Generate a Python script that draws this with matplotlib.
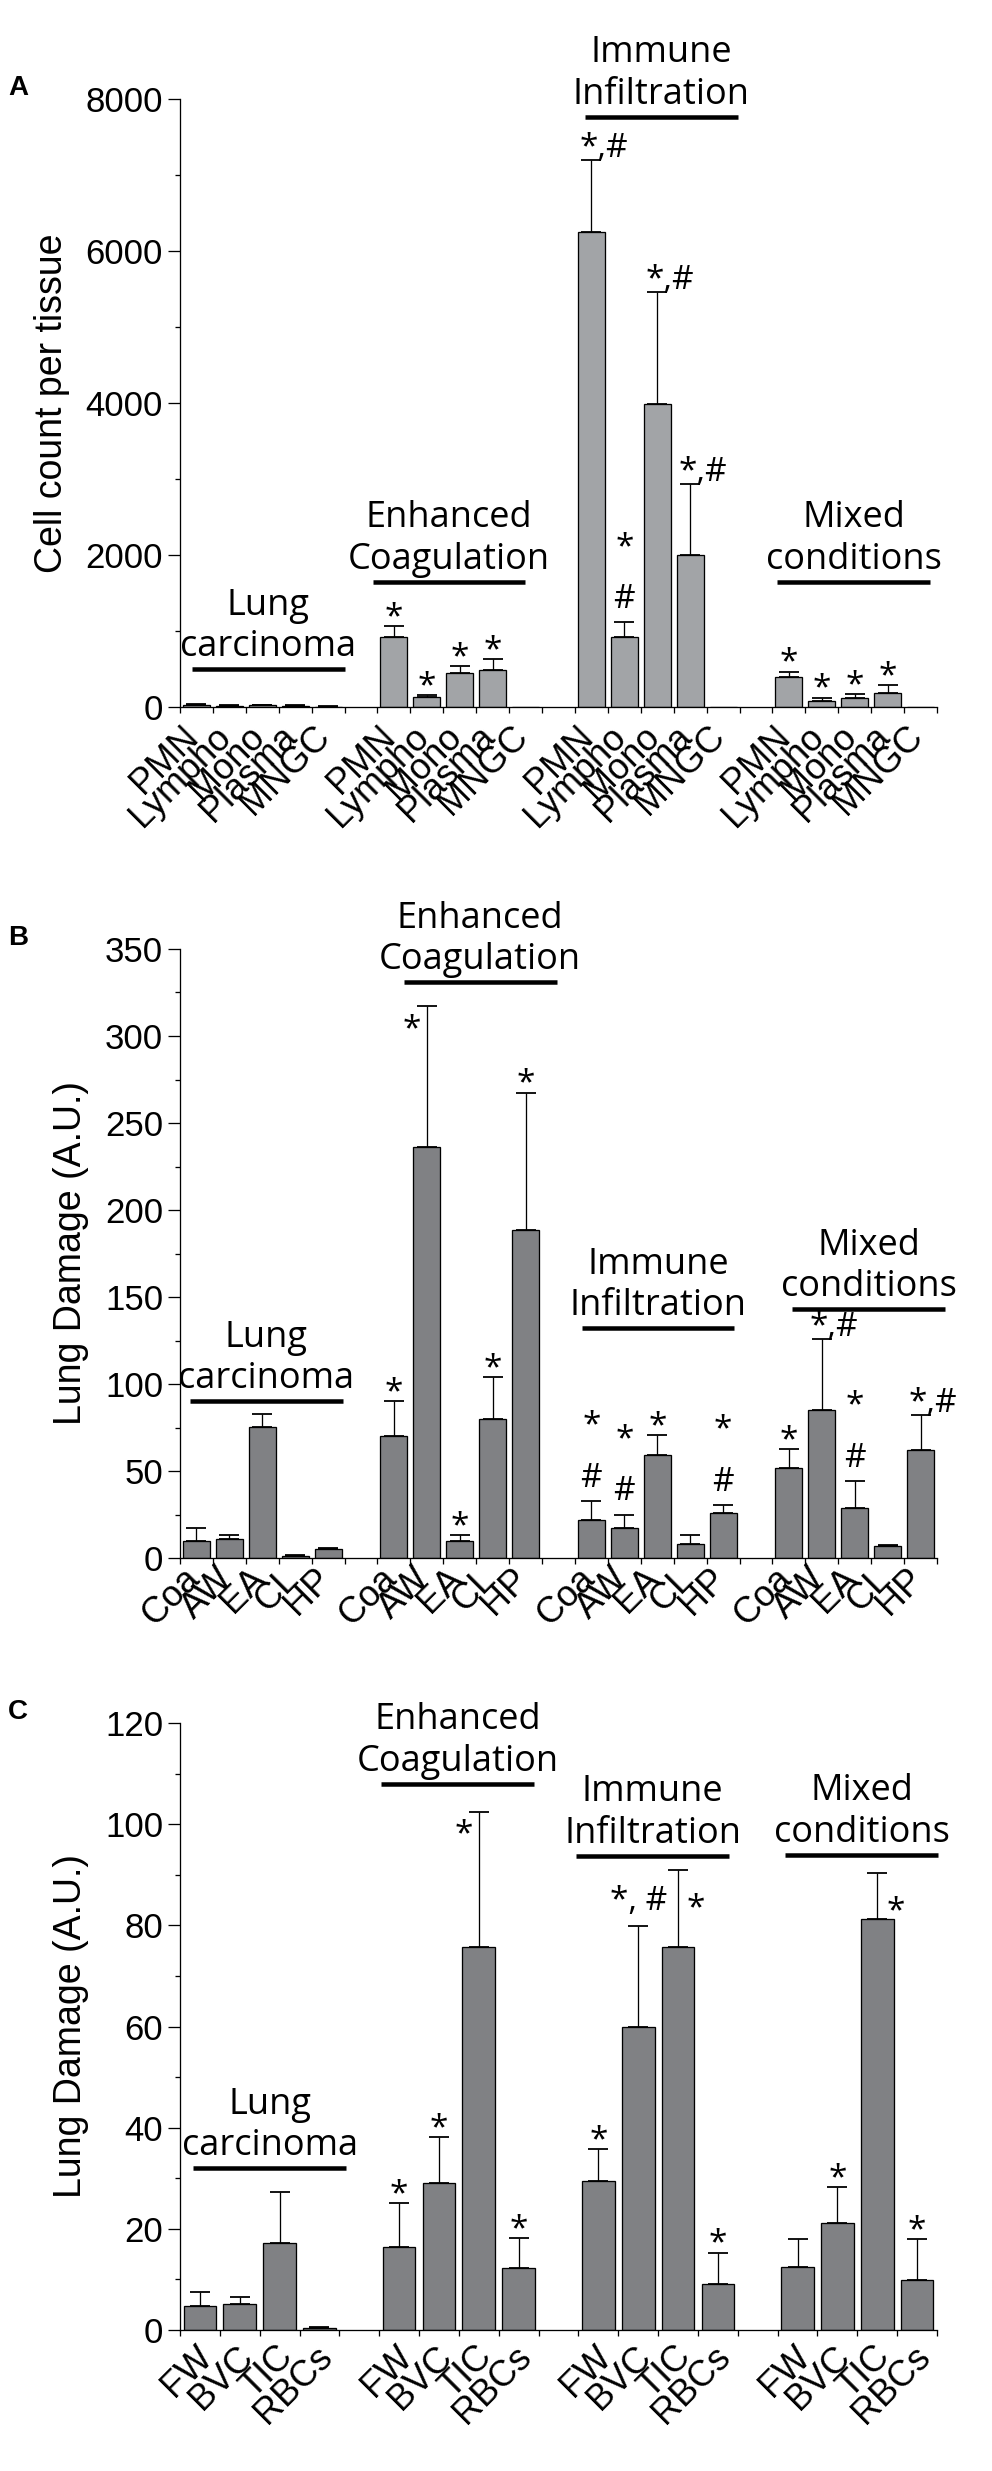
import numpy as np
import matplotlib
matplotlib.use("Agg")
import matplotlib.pyplot as plt
import matplotlib.transforms as mtrans

# ---------------- data ----------------
groups = ["Lung\ncarcinoma", "Enhanced\nCoagulation", "Immune\nInfiltration", "Mixed\nconditions"]

a_cats = ["PMN", "Lympho", "Mono", "Plasma", "MNGC"]
a_mean_lung = [25, 15, 20, 15, 5]
a_sem_lung = [15, 10, 10, 15, 3]
a_mean_enh = [920, 130, 445, 490, 0]
a_sem_enh = [145, 30, 95, 140, 0]
a_mean_imm = [6245, 920, 3990, 2000, 0]
a_sem_imm = [955, 200, 1465, 935, 0]
a_mean_mix = [395, 85, 125, 190, 0]
a_sem_mix = [70, 40, 45, 95, 0]
a_marks = [["", "", "", "", ""],
           ["*", "*", "*", "*", ""],
           ["*,#", "*/#", "*,#", "*,#", ""],
           ["*", "*", "*", "*", ""]]

b_cats = ["Coa", "AW", "EA", "CL", "HP"]
b_mean_lung = [10, 11, 75.5, 1.2, 5]
b_sem_lung = [7, 2.5, 7.5, 0.8, 1]
b_mean_enh = [70, 236, 10, 80, 188.5]
b_sem_enh = [20, 81, 3, 24, 79]
b_mean_imm = [22, 17, 59, 8, 25.7]
b_sem_imm = [11, 8, 11.5, 5, 5]
b_mean_mix = [51.5, 85, 28.5, 6.7, 62]
b_sem_mix = [11, 41, 16, 1, 20]
b_marks = [["", "", "", "", ""],
           ["*", "*L", "*", "*", "*"],
           ["*/#", "*/#", "*", "", "*/#"],
           ["*", "*,#", "*/#", "", "*,#"]]

c_cats = ["FW", "BVC", "TIC", "RBCs"]
c_mean_lung = [4.8, 5.1, 17.2, 0.3]
c_sem_lung = [2.7, 1.4, 10, 0.3]
c_mean_enh = [16.5, 29, 75.7, 12.3]
c_sem_enh = [8.6, 9.1, 26.8, 5.8]
c_mean_imm = [29.4, 60, 75.7, 9]
c_sem_imm = [6.4, 19.8, 15.3, 6.3]
c_mean_mix = [12.4, 21.2, 81.2, 9.8]
c_sem_mix = [5.5, 7.1, 9.2, 8.2]
c_marks = [["", "", "", ""],
           ["*", "*", "*L", "*"],
           ["*", "*, #", "*R", "*"],
           ["", "*", "*R", "*"]]

# ---------------- style ----------------
TICK_FONT = "Liberation Sans"
LABEL_FONT = "Open Sans"
W, H = 992, 2471
fig = plt.figure(figsize=(W / 100, H / 100), dpi=100)


def px(v):  # pixels -> points
    return v * 72 / 100


def make_panel(rect, cats, means, sems, marks, ymax, ymajor, ylabel, letter,
               color, gl_y, gl_x0, gl_w, xlab_dx, xlab_pad):
    ax = fig.add_axes(rect)
    n = len(cats)
    nslots = 4 * n + 3
    for g in range(4):
        xs = np.arange(n) + g * (n + 1) + 0.5
        m = np.array(means[g], dtype=float)
        s = np.array(sems[g], dtype=float)
        ax.bar(xs, m, width=0.82, color=color, edgecolor="black",
               linewidth=px(1.3), zorder=3)
        ok = s > 0
        ax.errorbar(xs[ok], m[ok], yerr=[np.zeros(ok.sum()), s[ok]], fmt="none",
                    ecolor="black", elinewidth=px(1.3), capsize=px(10),
                    capthick=px(1.8), zorder=2)
        for k in range(n):
            mk = marks[g][k]
            if not mk:
                continue
            top = m[k] + s[k]
            kw = dict(xycoords="data", textcoords="offset pixels",
                      fontsize=24, family=LABEL_FONT, va="baseline",
                      annotation_clip=False)
            if mk == "*":
                ax.annotate("*", (xs[k], top), xytext=(0, 0), ha="center", **kw)
            elif mk == "*,#":
                ax.annotate("*,#", (xs[k], top), xytext=(-12, 3), ha="left", **kw)
            elif mk == "*, #":
                ax.annotate("*, #", (xs[k], top), xytext=(0, 16), ha="center", **kw)
            elif mk == "*/#":
                ax.annotate("#", (xs[k], top), xytext=(0, 14), ha="center", **kw)
                ax.annotate("*", (xs[k], top), xytext=(0, 66), ha="center", **kw)
            elif mk == "*L":
                ax.annotate("*", (xs[k], top), xytext=(-15, -32), ha="center", **kw)
            elif mk == "*R":
                ax.annotate("*", (xs[k], top), xytext=(18, -48), ha="center", **kw)
        # group label + line
        x0 = gl_x0[g]
        ax.plot([x0, x0 + gl_w], [gl_y[g], gl_y[g]], color="black",
                lw=px(4.5), solid_capstyle="butt", clip_on=False, zorder=4)
        ax.annotate(groups[g], (x0 + gl_w / 2, gl_y[g]), xytext=(0, 4),
                    textcoords="offset pixels", ha="center", va="bottom",
                    multialignment="center", fontsize=26, family=LABEL_FONT,
                    linespacing=1.2, annotation_clip=False)

    ax.set_xlim(0, nslots)
    ax.set_ylim(0, ymax)
    for sp in ["top", "right"]:
        ax.spines[sp].set_visible(False)
    for sp in ["left", "bottom"]:
        ax.spines[sp].set_linewidth(px(1.3))
        ax.spines[sp].set_zorder(5)
    ax.set_xticks(np.arange(0, nslots + 1))
    ax.set_xticklabels([])
    centers = [g * (n + 1) + k + 0.5 for g in range(4) for k in range(n)]
    ax.set_xticks(centers, minor=True)
    ax.set_xticklabels(cats * 4, minor=True, rotation=45, ha="right",
                       fontsize=26, family=TICK_FONT)
    ax.tick_params(axis="x", which="major", length=px(6), width=px(1.3),
                   direction="out")
    ax.tick_params(axis="x", which="minor", length=0, pad=px(xlab_pad))
    off = mtrans.ScaledTranslation(xlab_dx / 100, 0, fig.dpi_scale_trans)
    for lab in ax.get_xticklabels(minor=True):
        lab.set_transform(lab.get_transform() + off)

    ax.set_yticks(np.arange(0, ymax + 1e-9, ymajor))
    ax.set_yticks(np.arange(ymajor / 2, ymax, ymajor), minor=True)
    ax.tick_params(axis="y", which="major", length=px(12), width=px(1.3),
                   labelsize=25, pad=px(5))
    ax.tick_params(axis="y", which="minor", length=px(5), width=px(1.3))
    for lab in ax.get_yticklabels():
        lab.set_family(TICK_FONT)
    ax.set_ylabel(ylabel, fontsize=27, family=TICK_FONT, labelpad=px(16))
    fig.text(8 / W, ax.get_position().y1 + 11 / H, letter, fontsize=20,
             fontweight="bold", family=TICK_FONT, ha="left", va="center")
    return ax


left = 180 / W
width = 757 / W

make_panel([left, 1 - 707 / H, width, 608 / H], a_cats,
           [a_mean_lung, a_mean_enh, a_mean_imm, a_mean_mix],
           [a_sem_lung, a_sem_enh, a_sem_imm, a_sem_mix], a_marks,
           8000, 2000, "Cell count per tissue", "A", "#a2a4a7",
           [497, 1647, 7765, 1647], [0.36, 5.85, 12.3, 18.15], 4.64, 9, 12)

make_panel([left, 1 - 1558 / H, width, 609 / H], b_cats,
           [b_mean_lung, b_mean_enh, b_mean_imm, b_mean_mix],
           [b_sem_lung, b_sem_enh, b_sem_imm, b_sem_mix], b_marks,
           350, 50, "Lung Damage (A.U.)", "B", "#808184",
           [90, 331, 132, 143], [0.3, 6.8, 12.2, 18.6], 4.64, 10, 3)

make_panel([left, 1 - 2330 / H, width, 607 / H], c_cats,
           [c_mean_lung, c_mean_enh, c_mean_imm, c_mean_mix],
           [c_sem_lung, c_sem_enh, c_sem_imm, c_sem_mix], c_marks,
           120, 20, "Lung Damage (A.U.)", "C", "#808184",
           [32, 108, 93.8, 94], [0.33, 5.05, 9.94, 15.19], 3.84, 20, 9)

fig.savefig("out.png", dpi=100)
